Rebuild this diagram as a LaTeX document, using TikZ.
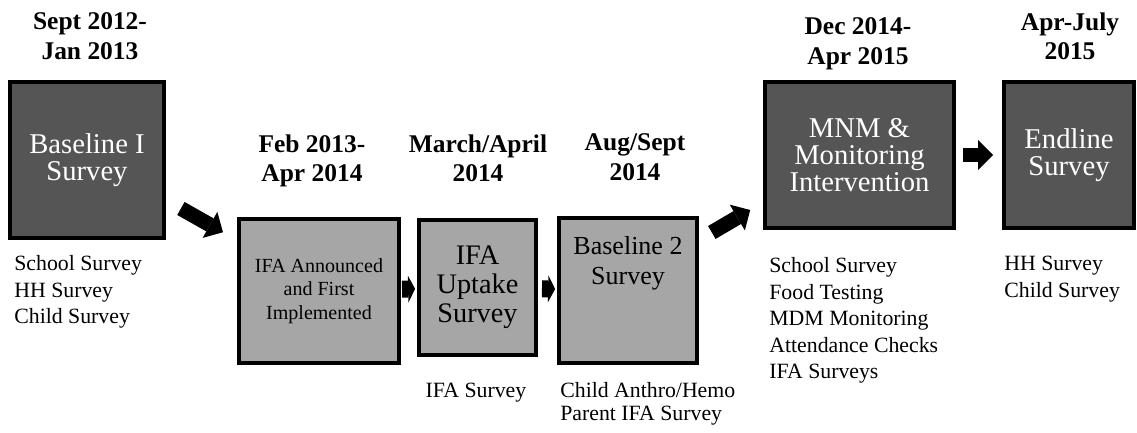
\documentclass[tikz,border=0pt]{standalone}
\usepackage{fontspec}
\setmainfont{Liberation Serif}
\usetikzlibrary{arrows.meta,positioning}
\definecolor{phasedark}{HTML}{555555}
\definecolor{phaselight}{HTML}{A6A6A6}
\tikzset{phase/.style={draw=black, line width=2.5pt, inner sep=0pt, align=center}}
\tikzset{darkphase/.style={phase, fill=phasedark, text=white, font=\fontsize{16.3}{15.4}\selectfont}}
\tikzset{lightphase/.style={phase, fill=phaselight}}
\tikzset{phasetext/.style={inner sep=0pt, align=center, font=\fontsize{14.8}{17}\selectfont}}
\tikzset{date/.style={anchor=north, inner sep=0pt, align=center, font=\fontsize{14.5}{17}\selectfont\bfseries}}
\tikzset{survey/.style={anchor=north west, inner sep=0pt, align=left, font=\fontsize{12.4}{15.1}\selectfont}}
\tikzset{bigstep/.style={line width=8.5pt, -{Triangle[length=8.5pt,width=17pt,line width=0pt]}}}
\tikzset{smallstep/.style={line width=9.7pt, -{Triangle[length=4pt,width=15.4pt,line width=0pt]}}}

\begin{document}
\begin{tikzpicture}[x=0.02cm, y=-0.02cm]
  \useasboundingbox (0,0) rectangle (1137,433);

  %%%% Phase boxes
  \node[darkphase, minimum width=3.07cm, minimum height=3.11cm] (b1) at (87,160) {Baseline I\\Survey};
  \node[lightphase, font=\fontsize{11.4}{13.4}\selectfont, minimum width=3.19cm, minimum height=2.87cm] (b2) at (319,291) {IFA Announced\\and First\\Implemented};
  \node[lightphase, font=\fontsize{16.1}{16.5}\selectfont, minimum width=2.33cm, minimum height=2.69cm] (b3) at (477.5,287.5) {IFA\\Uptake\\Survey};
  \node[lightphase, minimum width=2.75cm, minimum height=2.89cm] (b4) at (628,290.5) {};
  \node[phasetext, anchor=north] (b4text) at ([yshift=-0.4cm]b4.north) {Baseline 2\\Survey};
  \node[darkphase, minimum width=3.77cm, minimum height=2.91cm] (b5) at (859.5,155) {MNM \&\\Monitoring\\Intervention};
  \node[darkphase, minimum width=2.59cm, minimum height=2.91cm] (b6) at (1069,155) {Endline\\Survey};

  %%%% Dates
  \node[date] (d1) at (90,12) {Sept 2012-\\Jan 2013};
  \node[date] (d2) at (312,134) {Feb 2013-\\Apr 2014};
  \node[date] (d3) at (478,134) {March/April\\2014};
  \node[date] (d4) at (635,133) {Aug/Sept\\2014};
  \node[date] (d5) at (858,17) {Dec 2014-\\Apr 2015};
  \node[date] (d6) at (1070,12) {Apr-July\\2015};

  %%%% Surveys
  \node[survey] (s1) at (14,255) {School Survey\\HH Survey\\Child Survey};
  \node[survey, anchor=north] (s3) at (476,383) {IFA Survey};
  \node[survey, font=\fontsize{12.4}{13.1}\selectfont] (s4) at (560,382) {Child Anthro/Hemo\\Parent IFA Survey};
  \node[survey] (s5) at (769,257) {School Survey\\Food Testing\\MDM Monitoring\\Attendance Checks\\IFA Surveys};
  \node[survey] (s6) at (1004,256) {HH Survey\\Child Survey};

  %%%% Steps
  \draw[bigstep, shorten <=9.8pt, shorten >=9.2pt, transform canvas={yshift=2.6pt}] (b1) -- (b2);
  \draw[smallstep, shorten <=0.6pt, shorten >=1.1pt] (b2) -- (b3);
  \draw[smallstep, shorten <=2.3pt, shorten >=1.1pt] (b3) -- (b4);
  \draw[bigstep, shorten <=8.5pt, shorten >=8.5pt, transform canvas={yshift=5.1pt}] (b4) -- (b5);
  \draw[bigstep, shorten <=4pt, shorten >=5.1pt] (b5) -- (b6);
\end{tikzpicture}
\end{document}
